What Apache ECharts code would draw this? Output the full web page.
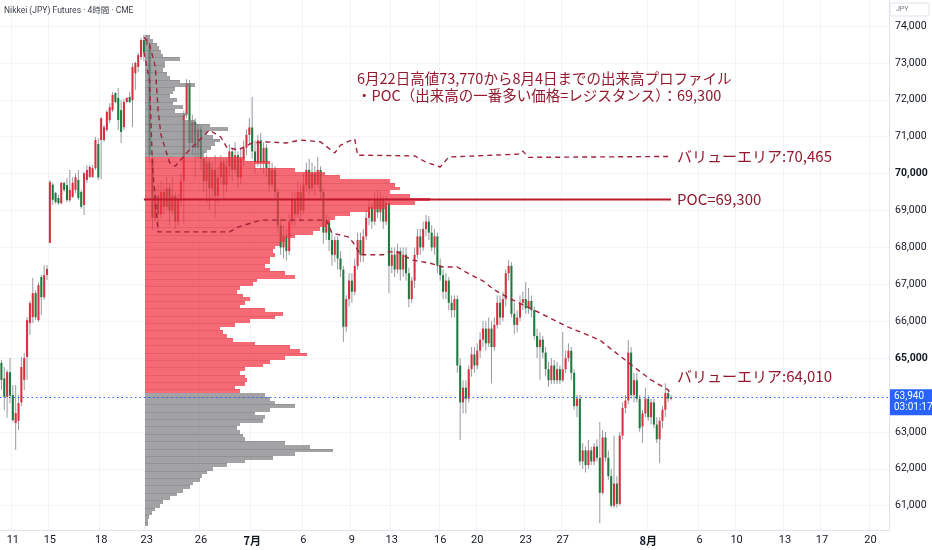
<!DOCTYPE html>
<html><head><meta charset="utf-8">
<script src="https://cdn.jsdelivr.net/npm/echarts@6/dist/echarts.min.js"></script>
<style>html,body{margin:0;padding:0;background:#fff}#c{width:932px;height:550px}</style>
</head><body><div id="c"></div>
<script>
// ---------- DATA ----------
const titleText = 'Nikkei (JPY) Futures · 4時間 · CME';
const noteLines = ['6月22日高値73,770から8月4日までの出来高プロファイル', '・POC（出来高の一番多い価格=レジスタンス）：69,300'];
const vahLabel = 'バリューエリア:70,465';
const valLabel = 'バリューエリア:64,010';
const pocLabel = 'POC=69,300';
const vahValue = 70465, valValue = 64010, pocValue = 69300;
const lastPrice = 63940, lastPriceText = '63,940', countdown = '03:01:17';

// 4h candles [open, close, low, high]
const candles = [
[64870,64410,64140,64950],[64450,63950,63590,64760],[63950,64620,63380,64680],[64620,63980,63780,65000],[64000,63320,63270,64270],
[63240,63510,62510,64270],[63300,63780,63050,64000],[63800,64760,63700,65030],[64410,65000,64130,65140],[65030,66030,64410,66110],
[65950,66490,65630,66550],[66110,66760,65950,67170],[66760,66110,66030,66840],[66030,66980,65980,67060],[67200,66650,66170,67250],
[66650,67250,66580,67520],[67250,67420,67120,67520],[68120,69770,68120,69830],[69700,69290,69150,69750],[69480,69230,69180,69500],
[69340,69200,69150,69420],[69200,69750,69170,69780],[69750,69560,69500,69780],[69690,69280,69230,69880],[69280,69560,69230,70100],
[69370,69750,69340,69900],[69560,69900,69470,70010],[69830,69340,69280,70100],[69500,69100,69050,69560],[69150,70010,68880,70040],
[69830,70100,69750,70230],[69910,70180,69880,70230],[69910,70150,69880,70230],[70150,70910,70100,70990],[70800,69900,69830,70960],
[70910,71500,69850,71530],[70910,71260,70860,71320],[71180,71670,71130,71720],[71450,71800,71370,71910],[71720,72130,71670,72210],
[72180,71940,71910,72210],[72050,71450,71180,72320],[71720,71130,70830,71990],[71260,71940,71180,72020],[71940,72050,71910,72080],
[72080,71940,71910,72210],[71990,72890,71260,73000],[72720,73000,72270,73030],[72890,73210,72750,73270],[73160,73620,73080,73680],
[73620,73300,73050,73770],[73500,73650,73450,73700],[73450,70500,70300,73550],[70400,68800,68470,70500],[68800,69400,68700,69600],
[69400,68900,68400,69700],[68900,69500,68800,69800],[69500,69100,68900,69700],[69100,69600,69000,69900],[69600,69000,68600,69750],
[69000,69400,68900,69900],[69400,68700,68500,69500],[68700,69300,68600,69450],[69300,69800,69100,70000],[69800,71600,68660,71700],
[71600,72450,71500,72560],[72450,70830,70600,72540],[70830,71400,70500,71600],[71400,70700,69900,71500],[70700,71200,70400,71350],
[71200,70400,70100,71300],[70400,69800,69500,70600],[69800,70300,69200,70500],[70300,69600,69000,70400],[69600,70100,69300,70300],
[70100,69400,68820,70500],[69400,69900,69200,70200],[69900,70300,69700,70500],[70300,69700,69300,70400],[69700,70200,69500,70400],
[70200,70600,69900,70800],[70600,70100,69800,70700],[70100,70500,70000,70850],[70500,69900,69600,70600],[69900,70400,69700,70700],
[70400,70700,70200,70900],[70700,71050,70500,71200],[71050,71250,70800,71500],[71250,70600,70400,72080],[70600,70300,70000,70900],
[70300,70900,70200,71050],[70900,70300,70100,71100],[70300,70700,70000,70850],[70700,70150,69900,70800],[70150,69700,69500,70300],
[69700,70100,69600,70300],[70100,69500,69300,70200],[69500,68600,68400,69600],[68600,68000,67800,68800],[68000,68300,67700,68600],
[68300,67900,67650,68500],[67900,68700,67800,68900],[68700,69300,68600,69500],[69300,68900,68600,69500],[68900,69500,68800,69800],
[69500,69000,68700,69700],[69000,69700,68900,70000],[69700,70100,69500,70300],[70100,69600,69400,70400],[69600,70000,69500,70300],
[70000,69700,69400,70200],[69700,70100,69600,70450],[70100,69500,69300,70200],[69500,68400,68100,69600],[68400,68700,68200,68900],
[68700,68200,67900,68800],[68200,67800,67500,68400],[67800,68200,67600,68300],[68200,67700,67400,68300],[67700,67400,67200,67900],
[67400,65850,65440,67500],[65850,66600,65700,66700],[66600,67100,66400,67300],[67100,66800,66500,67300],[66800,67500,66700,67700],
[67500,68200,67400,68400],[68200,67800,67600,68400],[67800,68300,67600,68500],[68300,68800,68200,69000],[68800,69100,68600,69300],
[69100,68700,68500,69200],[68700,69300,68600,69500],[69300,68950,68800,69550],[68950,69300,68700,69500],[69300,68700,68500,69400],
[68700,69200,68600,69400],[69200,67500,66760,69300],[67500,67800,67300,68000],[67800,67400,67200,68000],[67400,67900,67300,68100],
[67900,67400,67100,68000],[67400,67800,67200,68000],[67800,67300,67100,68000],[67300,66600,66380,67450],[66600,67100,66500,67200],
[67100,67800,66900,68000],[67800,68300,67700,68500],[68300,68000,67800,68500],[68000,68500,67900,68700],[68500,68700,68300,68880],
[68700,68400,68200,68850],[68400,68000,67900,68600],[68000,68300,67800,68500],[68300,67500,67300,68400],[67500,67250,67100,67700],
[67250,66800,66600,67400],[66800,67100,66600,67300],[67100,66500,66300,67200],[66500,66300,66100,66700],[66300,66600,66100,66700],
[66600,64800,64600,66700],[64800,63800,62780,65000],[63800,64200,63500,64400],[64200,63900,63500,64400],[63900,64700,63800,64800],
[64700,65100,64500,65300],[65100,64800,64600,65300],[64800,65200,64700,65400],[65200,65500,65000,65700],[65500,65800,65300,66000],
[65800,65400,65200,66000],[65400,65800,65300,66100],[65800,65300,64320,66000],[65300,65900,65200,66100],[65900,66500,65800,66700],
[66500,66100,65900,66700],[66100,66600,66000,66800],[66600,67300,66400,67400],[67300,67500,67100,67660],[67500,66200,66100,67600],
[66200,65900,65650,66500],[65900,66100,65700,66300],[66100,66500,66000,66700],[66500,66600,66300,66800],[66600,66350,66200,67060],
[66350,66550,66200,66900],[66550,66300,66100,66700],[66300,65600,65500,66400],[65600,65300,65000,65800],[65300,65500,64410,65700],
[65500,65150,65000,65600],[65150,64700,64500,65300],[64700,64400,64220,64900],[64400,64800,64300,65000],[64800,64400,64300,64950],
[64400,64700,64300,64900],[64700,64400,64300,64800],[64400,64700,64350,65710],[64700,65000,64600,65200],[65000,65200,64900,65400],
[65200,64600,64400,65300],[64600,63700,63600,64700],[63700,63900,63400,64000],[63900,62200,62100,64000],[62200,62500,62000,62700],
[62500,62100,61900,62600],[62100,62500,62000,62780],[62500,62200,62100,62600],[62200,62600,62100,62700],[62600,62300,62200,62800],
[62300,61350,60530,63270],[61350,62850,61300,63050],[62850,62300,62200,63000],[62300,61800,61700,62500],[61800,61000,60950,62000],
[61000,61600,60950,62900],[61600,61050,60950,61800],[61050,62900,61000,63000],[62900,63650,62800,63800],[63650,63850,63500,64000],
[63850,65150,63750,65490],[65150,64000,63900,65300],[64000,64400,63800,64600],[64400,63900,63800,64600],[63900,63100,63000,64000],
[63150,63500,62700,63600],[63500,63900,63400,64200],[63900,63400,63300,64000],[63400,63800,63200,63900],[63800,63200,63100,63900],
[63200,62800,62700,63400],[62800,63300,62160,63400],[63300,63600,63100,63700],[63600,64050,63400,64320],[64050,63900,63800,64150],
[63900,63940,63850,64000]
];

// volume profile rows [row centre price, relative volume]
const profileRowSize = 100;
const profile = [
[73700,5],[73600,8],[73500,12],[73400,14],[73300,16],[73200,18],[73100,35],[73000,20],[72900,20],[72800,18],
[72700,22],[72600,25],[72500,35],[72400,50],[72300,30],[72200,28],[72100,25],[72000,32],[71900,28],[71800,38],
[71700,30],[71600,42],[71500,38],[71400,50],[71300,65],[71200,83],[71100,62],[71000,68],[70900,75],[70800,70],
[70700,66],[70600,62],[70500,58],[70400,100],[70300,125],[70200,110],[70100,150],[70000,180],[69900,195],[69800,245],
[69700,250],[69600,255],[69500,245],[69400,265],[69300,285],[69200,270],[69100,240],[69000,225],[68900,205],[68800,190],
[68700,185],[68600,182],[68500,175],[68400,168],[68300,150],[68200,140],[68100,135],[68000,130],[67900,128],[67800,130],
[67700,125],[67600,125],[67500,120],[67400,125],[67300,140],[67200,150],[67100,112],[67000,108],[66900,95],[66800,92],
[66700,98],[66600,105],[66500,100],[66400,95],[66300,120],[66200,138],[66100,130],[66000,105],[65900,90],[65800,75],
[65700,78],[65600,82],[65500,88],[65400,110],[65300,145],[65200,155],[65100,162],[65000,140],[64900,125],[64800,118],
[64700,100],[64600,95],[64500,100],[64400,102],[64300,100],[64200,90],[64100,95],[64000,120],[63900,125],[63800,130],
[63700,150],[63600,125],[63500,110],[63400,120],[63300,118],[63200,95],[63100,92],[63000,95],[62900,98],[62800,100],
[62700,140],[62600,165],[62500,188],[62400,150],[62300,128],[62200,100],[62100,82],[62000,68],[61900,62],[61800,57],
[61700,55],[61600,48],[61500,45],[61400,38],[61300,32],[61200,25],[61100,18],[61000,15],[60900,10],[60800,7],
[60700,4],[60600,3],[60500,3]
];

// developing value area lines [bar index, price]
const vahLine = [[50,73700],[52,73500],[54,72900],[55,71700],[56,71050],[59,70300],[61,70200],[65,70560],[73,71180],[77,70990],
[79,70720],[83,70640],[88,70830],[93,70860],[100,70830],[105,70910],[112,70860],[117,70560],[119,70770],[122,70880],[124,70940],
[125,70500],[145,70480],[149,70310],[154,70180],[157,70450],[182,70530],[183,70610],[185,70440],[235,70465]];
const valLine = [[50,73300],[52,72500],[53,70200],[55,68420],[80,68420],[83,68550],[91,68740],[114,68740],[116,68390],[122,68280],
[124,68070],[126,67800],[134,67800],[136,67880],[139,67880],[144,67660],[150,67580],[155,67470],[160,67470],[163,67330],[169,67090],
[173,66850],[178,66630],[187,66300],[199,65840],[210,65490],[222,64760],[228,64410],[234,64140],[235,64010]];
const pocLine = [[50,69300],[235,69300]];

// axes
const slotCount = 312;
const xTickIndex = [4,17,35,51,70,88,106,123,137,154,167,184,197,227,245,258,275,288,305];
const xTickText = ['11','15','18','23','26','7月','6','9','13','16','20','23','27','8月','6','10','13','17','20'];
const yTickLabels = [61000,62000,63000,65000,66000,67000,68000,69000,70000,71000,72000,73000,74000];
const yGridValues = [61000,62000,63000,64000,65000,66000,67000,68000,69000,70000,71000,72000,73000,74000];

// ---------- CHART ----------
const Y_MIN = 60342, Y_MAX = 74705;
const GRID = {left: 0, right: 43, top: 0, bottom: 20};
const UP = '#d8303f', DOWN = '#1e7a3c', WICK = '#8c8f96';
const TXT = '#931a2e', DASH = '#a0233a';
const CJK = '"Noto Sans CJK JP","Noto Sans",sans-serif';
const NUM = 'Roboto,"Noto Sans",sans-serif';

const categories = Array.from({length: slotCount}, (_, i) => String(i));
const labelMap = {};
xTickIndex.forEach((idx, k) => { labelMap[idx] = xTickText[k]; });
const candleData = candles.map((c, i) => [i, c[0], c[1], c[2], c[3]]);
const fmt = v => Number(v).toLocaleString('en-US');

const chart = echarts.init(document.getElementById('c'), null, {renderer: 'canvas'});
chart.setOption({
  animation: false,
  backgroundColor: '#fff',
  grid: [
    Object.assign({}, GRID),
    {left: 145, right: GRID.right, top: GRID.top, bottom: GRID.bottom}
  ],
  xAxis: [{
    type: 'category', data: categories, boundaryGap: true, gridIndex: 0,
    axisLine: {show: true, lineStyle: {color: '#e0e3eb'}},
    axisTick: {show: false},
    axisLabel: {
      interval: idx => labelMap[idx] !== undefined,
      formatter: v => { const t = labelMap[Number(v)] || ''; return t.indexOf('月') >= 0 ? '{b|' + t + '}' : t; },
      color: '#131722', fontSize: 11, fontFamily: NUM, margin: 5,
      rich: {b: {fontWeight: 'bold', fontSize: 11, color: '#131722', fontFamily: CJK}}
    },
    splitLine: {show: true, interval: idx => labelMap[idx] !== undefined, lineStyle: {color: '#f3f4f7'}}
  }, {
    type: 'value', gridIndex: 1, min: 0, max: 744, show: false
  }],
  yAxis: [{
    type: 'value', position: 'right', min: Y_MIN, max: Y_MAX, gridIndex: 0, scale: true,
    axisLine: {show: true, lineStyle: {color: '#e0e3eb'}},
    axisTick: {show: false, customValues: yGridValues},
    axisLabel: {
      customValues: yTickLabels, margin: 6, color: '#131722', fontSize: 10.5, fontFamily: NUM,
      formatter: v => (v % 5000 === 0 ? '{b|' + fmt(v) + '}' : fmt(v)),
      rich: {b: {fontWeight: 'bold', fontSize: 10.5, color: '#131722', fontFamily: NUM}}
    },
    splitLine: {show: true, lineStyle: {color: '#f3f4f7'}}
  }, {
    type: 'value', gridIndex: 1, min: Y_MIN, max: Y_MAX, show: false
  }],
  series: [
    {
      name: 'candles', type: 'custom', z: 1, silent: true, clip: true,
      data: candleData, encode: {x: 0, y: [1, 2, 3, 4]},
      renderItem: (params, api) => {
        const i = api.value(0), o = api.value(1), c = api.value(2), l = api.value(3), h = api.value(4);
        const pO = api.coord([i, o]), pC = api.coord([i, c]), pL = api.coord([i, l]), pH = api.coord([i, h]);
        const w = Math.max(1.6, api.size([1, 0])[0] * 0.72);
        const x = pO[0];
        const top = Math.min(pO[1], pC[1]), hgt = Math.max(1, Math.abs(pO[1] - pC[1]));
        return {type: 'group', children: [
          {type: 'line', shape: {x1: x, y1: pH[1], x2: x, y2: pL[1]}, style: {stroke: WICK, lineWidth: 0.9}},
          {type: 'rect', shape: {x: x - w / 2, y: top, width: w, height: hgt}, style: {fill: c >= o ? UP : DOWN}}
        ]};
      }
    },
    {
      name: 'profile', type: 'custom', xAxisIndex: 1, yAxisIndex: 1, z: 2, silent: true,
      data: profile, encode: {x: 1, y: 0},
      renderItem: (params, api) => {
        const p = api.value(0), v = api.value(1);
        const a = api.coord([0, p + profileRowSize / 2]);
        const b = api.coord([v, p - profileRowSize / 2]);
        const y0 = Math.round(a[1]), y1 = Math.round(b[1]);
        const inVA = p >= valValue && p <= vahValue;
        const children = [{
          type: 'rect', shape: {x: a[0], y: y0, width: b[0] - a[0], height: y1 - y0},
          style: {fill: inVA ? 'rgba(242,54,69,0.74)' : 'rgba(125,125,130,0.71)'}
        }];
        if (params.dataIndex % 2 === 0) {
          children.push({type: 'rect', shape: {x: a[0], y: y0, width: b[0] - a[0], height: 1},
            style: {fill: inVA ? 'rgba(140,10,30,0.13)' : 'rgba(40,40,40,0.13)'}});
        }
        return {type: 'group', children};
      }
    },
    {
      name: 'VAH', type: 'line', z: 3, silent: true, data: vahLine, showSymbol: false, symbol: 'none',
      lineStyle: {color: DASH, width: 1.4, type: [5, 4]},
      endLabel: {show: true, formatter: () => vahLabel, color: TXT, fontSize: 15, fontFamily: CJK, distance: 6}
    },
    {
      name: 'VAL', type: 'line', z: 3, silent: true, data: valLine, showSymbol: false, symbol: 'none',
      lineStyle: {color: DASH, width: 1.4, type: [5, 4]},
      endLabel: {show: true, formatter: () => valLabel, color: TXT, fontSize: 15, fontFamily: CJK, distance: 6, offset: [0, -18]}
    },
    {
      name: 'POC', type: 'line', z: 4, silent: true, data: pocLine, showSymbol: false, symbol: 'none',
      lineStyle: {color: '#c0182e', width: 2},
      endLabel: {show: true, formatter: () => pocLabel, color: TXT, fontSize: 15, fontFamily: CJK, distance: 6},
      markLine: {
        silent: true, symbol: 'none', animation: false,
        lineStyle: {color: '#2962ff', width: 1, type: [1.5, 3]},
        label: {show: false},
        data: [{yAxis: lastPrice}]
      }
    }
  ]
});

const py = chart.convertToPixel({yAxisIndex: 0}, lastPrice);
chart.setOption({
  graphic: [
    {type: 'text', left: 4, top: 7, style: {text: titleText, fill: '#3a3e49', fontSize: 8.5, fontFamily: 'Roboto,"Noto Sans CJK JP",sans-serif'}},
    {type: 'text', left: 357, top: 70, style: {text: noteLines.join('\n'), fill: TXT, fontSize: 14.5, lineHeight: 17, fontFamily: CJK}},
    {type: 'rect', shape: {x: 890, y: 3, width: 39, height: 13, r: 2}, style: {fill: '#fff', stroke: '#e0e3eb', lineWidth: 1}},
    {type: 'text', x: 896, y: 5.5, style: {text: 'JPY', fill: '#787b86', fontSize: 7, fontFamily: NUM}},
    {type: 'rect', shape: {x: 890, y: py - 8, width: 42, height: 26}, style: {fill: '#2962ff'}, z: 10},
    {type: 'text', x: 894, y: py - 6, style: {text: lastPriceText, fill: '#fff', fontSize: 10, fontFamily: NUM}, z: 11},
    {type: 'text', x: 894, y: py + 5.5, style: {text: countdown, fill: '#fff', fontSize: 10, fontFamily: NUM}, z: 11}
  ]
});
</script></body></html>
